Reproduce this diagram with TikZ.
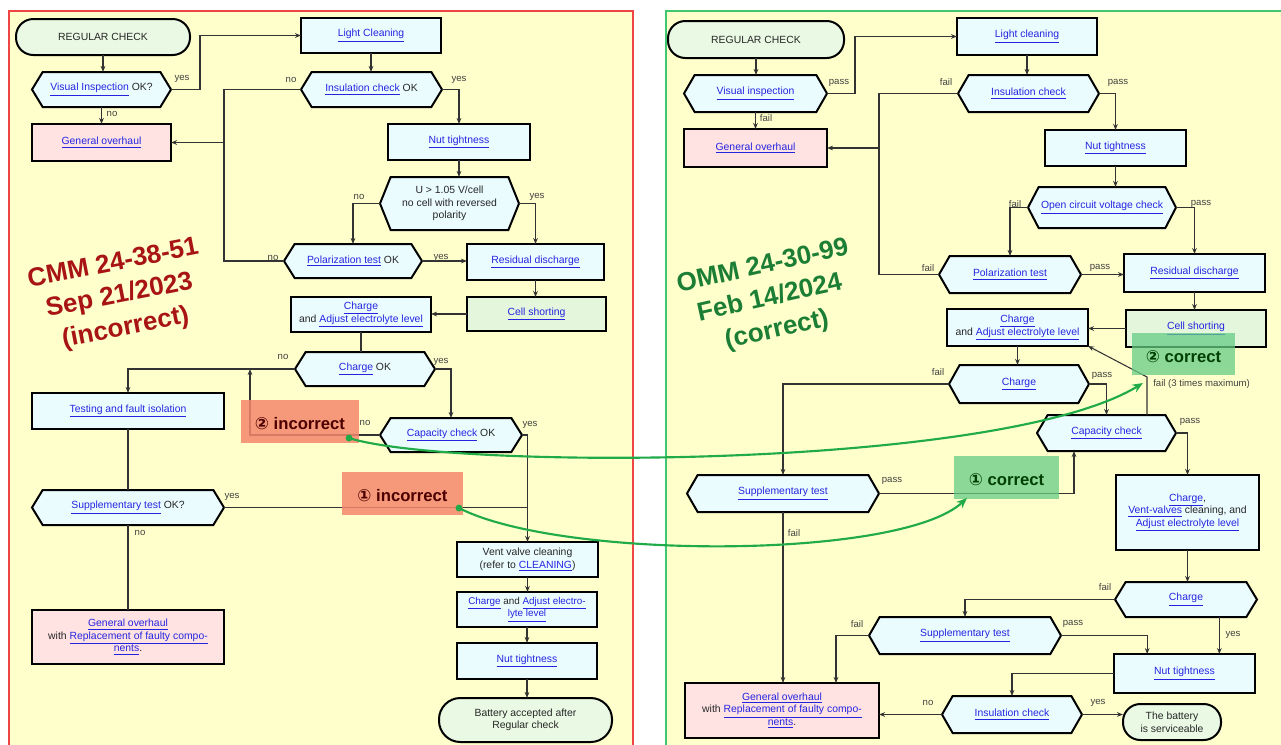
\documentclass[tikz,border=0pt]{standalone}
\usepackage{fontspec}
\setmainfont{Liberation Sans}
\newfontfamily\symfont{DejaVu Sans}
\usetikzlibrary{arrows.meta}
\pgfdeclarelayer{back}
\pgfdeclarelayer{bg}
\pgfsetlayers{back,bg,main}
\definecolor{panel}{HTML}{FFFFCC}
\definecolor{redframe}{HTML}{EE4545}
\definecolor{greenframe}{HTML}{40C870}
\definecolor{boxfill}{HTML}{EBFCFF}
\definecolor{pinkfill}{HTML}{FFE3E3}
\definecolor{termfill}{HTML}{EAF9E4}
\definecolor{cellgreen}{HTML}{E4F7DC}
\definecolor{linkblue}{HTML}{2424E0}
\definecolor{wirecol}{HTML}{333333}
\definecolor{titlered}{HTML}{A81414}
\definecolor{titlegreen}{HTML}{1B7E34}
\definecolor{arrowgreen}{HTML}{20AA48}
\definecolor{badfill}{HTML}{F5876C}
\definecolor{goodfill}{HTML}{66CC84}
\newcommand\lk[1]{\textcolor{linkblue}{\underline{#1}}}
\newcommand\mkbox[7]{\node[#6, minimum width={(#4-#2)*0.75pt}, minimum height={(#5-#3)*0.75pt}] (#1) at ({(#2+#4)/2},{(#3+#5)/2}) {#7};}
\newcommand\mkhex[6]{%
  \mkbox{#1}{#2}{#3}{#4}{#5}{hexn}{#6}%
  \begin{pgfonlayer}{bg}
  \draw[boxline, fill=boxfill] (#1.west) -- ([xshift=8pt]#1.north west) -- ([xshift=-8pt]#1.north east) -- (#1.east) -- ([xshift=-8pt]#1.south east) -- ([xshift=8pt]#1.south west) -- cycle;
  \end{pgfonlayer}}
\begin{document}
\begin{tikzpicture}[x=0.75pt, y=-0.75pt,
  boxline/.style={draw=black, line width=1.5pt},
  txt/.style={inner sep=1pt, outer sep=0pt, align=center, font=\fontsize{7.8}{9.4}\selectfont, text=black!85},
  box/.style={txt, boxline, fill=boxfill},
  pbox/.style={box, fill=pinkfill},
  gbox/.style={box, fill=cellgreen},
  term/.style={box, fill=termfill, rounded corners=13pt},
  hexn/.style={txt},
  wire/.style={draw=wirecol, line width=0.8pt},
  arr/.style={wire, -{Stealth[length=4.5pt,width=3.5pt]}},
  lab/.style={font=\fontsize{7.2}{8}\selectfont, text=black!75, inner sep=0pt},
  badbox/.style={fill=badfill, fill opacity=0.85, text opacity=1, inner sep=0pt, outer sep=0pt, text height=14.5pt, text depth=2.5pt, font=\fontsize{12.5}{14}\selectfont\bfseries, text=black!70!red},
  goodbox/.style={fill=goodfill, fill opacity=0.75, text opacity=1, inner sep=0pt, outer sep=0pt, text height=14.5pt, text depth=2.5pt, font=\fontsize{12.5}{14}\selectfont\bfseries, text=black!75!green},
  garrow/.style={draw=arrowgreen, line width=1.6pt, -{Stealth[length=8pt,width=6.5pt]}},
  title/.style={align=center, font=\fontsize{19.5}{24.5}\selectfont\bfseries}
]
\useasboundingbox (0,0) rectangle (1281,744);
\begin{pgfonlayer}{back}
\fill[white] (0,0) rectangle (1281,744);
\draw[redframe, line width=1.6pt, fill=panel] (9,11) rectangle (633,760);
\draw[greenframe, line width=1.6pt, fill=panel] (666,11) rectangle (1295,760);
\end{pgfonlayer}

% ---------- titles ----------
\node[title, rotate=11, text=titlered] (tL) at (119.5,296.5) {CMM 24-38-51\\Sep 21/2023\\(incorrect)};
\node[title, rotate=12.5, text=titlegreen] (tR) at (770,299) {OMM 24-30-99\\Feb 14/2024\\(correct)};

% ---------- left nodes ----------
\mkbox{Lrc}{16}{19}{190}{55}{term}{REGULAR CHECK}
\mkbox{Llc}{301}{18}{441}{53}{box}{\lk{Light Cleaning}}
\mkhex{Lvi}{32}{72}{171}{107}{\lk{Visual Inspection} OK?}
\mkbox{Lgo}{32}{124}{171}{161}{pbox}{\lk{General overhaul}}
\mkhex{Lic}{301}{72}{442}{107}{\lk{Insulation check} OK}
\mkbox{Lnt}{388}{124}{530}{160}{box}{\lk{Nut tightness}}
\mkhex{Lu}{380}{177}{519}{230}{U > 1.05 V/cell\\no cell with reversed\\polarity}
\mkhex{Lpt}{284}{244}{422}{278}{\lk{Polarization test} OK}
\mkbox{Lrd}{467}{244}{604}{280}{box}{\lk{Residual discharge}}
\mkbox{Lcs}{467}{297}{606}{331}{gbox}{\lk{Cell shorting}}
\mkbox{Lch}{291}{297}{431}{332}{box}{\lk{Charge}\\and \lk{Adjust electrolyte level}}
\mkhex{Lco}{295}{352}{435}{386}{\lk{Charge} OK}
\mkbox{Ltf}{32}{393}{224}{429}{box}{\lk{Testing and fault isolation}}
\mkhex{Lcc}{380}{418}{522}{452}{\lk{Capacity check} OK}
\mkhex{Lst}{32}{490}{224}{525}{\lk{Supplementary test} OK?}
\mkbox{Lgo2}{32}{610}{224}{664}{pbox}{\lk{General overhaul}\\with \lk{Replacement of faulty compo-}\\\lk{nents}.}
\mkbox{Lvv}{457}{542}{598}{577}{box}{Vent valve cleaning\\(refer to \lk{CLEANING})}
\mkbox{Lca}{457}{592}{597}{627}{box, font=\fontsize{7.4}{9.4}\selectfont}{\lk{Charge} and \lk{Adjust electro-}\\\lk{lyte level}}
\mkbox{Lnt2}{457}{643}{597}{679}{box}{\lk{Nut tightness}}
\mkbox{Lba}{439}{698}{612}{742}{term, rounded corners=16pt}{Battery accepted after\\Regular check}

% ---------- left connectors ----------
\draw[arr] (Lrc.south) -- (Lrc.south |- Lvi.north);
\draw[arr] (Lvi.east) -- ++(29,0) |- (Llc.west);
\draw[arr] (Lvi.south) -- (Lvi.south |- Lgo.north);
\draw[arr] (Llc.south) -- (Llc.south |- Lic.north);
\coordinate (Lbus) at (224,142.5);
\draw[wire] (Lic.west) -| (Lbus) |- (Lpt.west);
\draw[arr] (Lbus) -- (Lgo.east);
\draw[arr] (Lic.east) -| (Lnt.north);
\draw[arr] (Lnt.south) -- (Lnt.south |- Lu.north);
\draw[arr] (Lu.west) -| (Lpt.north);
\draw[arr] (Lu.east) -| (Lrd.north);
\draw[arr] (Lpt.east) -- (Lpt.east -| Lrd.west);
\draw[arr] (Lrd.south) -- (Lrd.south |- Lcs.north);
\draw[arr] (Lcs.west) -- (Lcs.west -| Lch.east);
\draw[wire] (Lch.south) -- (Lch.south |- Lco.north);
\draw[arr] (Lco.west) -| (Ltf.north);
\draw[arr] (Lco.east) -| (Lcc.north);
\coordinate (Lret) at (250,369);
\draw[arr] (Lcc.west) -| (Lret);
\draw[arr] (Lcc.east) -| (Lvv.north);
\draw[wire] (Ltf.south) -- (Ltf.south |- Lst.north);
\draw[wire] (Lst.east) -- (Lst.east -| Lvv.north);
\draw[wire] (Lst.south) -- (Lst.south |- Lgo2.north);
\draw[arr] (Lvv.south) -- (Lvv.south |- Lca.north);
\draw[arr] (Lca.south) -- (Lca.south |- Lnt2.north);
\draw[arr] (Lnt2.south) -- (Lnt2.south |- Lba.north);

\node[lab] at (182,79) {yes};
\node[lab] at (112,114) {no};
\node[lab] at (291,80) {no};
\node[lab] at (459,80) {yes};
\node[lab] at (359,197) {no};
\node[lab] at (537,197) {yes};
\node[lab] at (273,258) {no};
\node[lab] at (441,258) {yes};
\node[lab] at (283,357) {no};
\node[lab] at (441,362) {yes};
\node[lab] at (365,423) {no};
\node[lab] at (530,425) {yes};
\node[lab] at (232,497) {yes};
\node[lab] at (140,533) {no};

% ---------- right nodes ----------
\mkbox{Rrc}{668}{21}{844}{58}{term}{REGULAR CHECK}
\mkbox{Rlc}{957}{18}{1097}{55}{box}{\lk{Light cleaning}}
\mkhex{Rvi}{684}{75}{827}{112}{\lk{Visual inspection}}
\mkbox{Rgo}{684}{129}{827}{167}{pbox}{\lk{General overhaul}}
\mkhex{Ric}{958}{75}{1099}{112}{\lk{Insulation check}}
\mkbox{Rnt}{1045}{130}{1186}{166}{box}{\lk{Nut tightness}}
\mkhex{Roc}{1028}{187}{1176}{228}{\lk{Open circuit voltage check}}
\mkhex{Rpt}{939}{256}{1081}{293}{\lk{Polarization test}}
\mkbox{Rrd}{1124}{254}{1265}{292}{box}{\lk{Residual discharge}}
\mkbox{Rcs}{1126}{310}{1266}{347}{gbox}{\lk{Cell shorting}}
\mkbox{Rch}{947}{309}{1088}{346}{box}{\lk{Charge}\\and \lk{Adjust electrolyte level}}
\mkhex{Rc1}{949}{365}{1089}{403}{\lk{Charge}}
\mkhex{Rcc}{1037}{415}{1176}{451}{\lk{Capacity check}}
\mkhex{Rst}{687}{475}{879}{512}{\lk{Supplementary test}}
\mkbox{Rcv}{1116}{475}{1259}{550}{box}{\lk{Charge},\\\lk{Vent-valves} cleaning, and\\\lk{Adjust electrolyte level}}
\mkhex{Rc2}{1115}{582}{1257}{617}{\lk{Charge}}
\mkhex{Rs2}{869}{617}{1061}{654}{\lk{Supplementary test}}
\mkbox{Rnt2}{1114}{654}{1255}{693}{box}{\lk{Nut tightness}}
\mkhex{Ric2}{942}{696}{1082}{733}{\lk{Insulation check}}
\mkbox{Rbs}{1123}{704}{1221}{740}{term}{The battery\\is serviceable}
\mkbox{Rgo2}{685}{683}{879}{738}{pbox}{\lk{General overhaul}\\with \lk{Replacement of faulty compo-}\\\lk{nents}.}

% ---------- right connectors ----------
\draw[arr] (Rrc.south) -- (Rrc.south |- Rvi.north);
\draw[arr] (Rvi.east) -- ++(28,0) |- (Rlc.west);
\draw[arr] (Rvi.south) -- (Rvi.south |- Rgo.north);
\draw[arr] (Rlc.south) -- (Rlc.south |- Ric.north);
\coordinate (Rbus) at (879,148);
\draw[wire] (Ric.west) -| (Rbus) |- (Rpt.west);
\draw[arr] (Rbus) -- (Rgo.east);
\draw[arr] (Ric.east) -| (Rnt.north);
\draw[arr] (Rnt.south) -- (Rnt.south |- Roc.north);
\draw[arr] (Roc.west) -| (Rpt.north);
\draw[arr] (Roc.east) -| (Rrd.north);
\draw[arr] (Rpt.east) -- (Rpt.east -| Rrd.west);
\draw[arr] (Rrd.south) -- (Rrd.south |- Rcs.north);
\draw[arr] (Rcs.west) -- (Rcs.west -| Rch.east);
\draw[arr] (Rch.south) -- (Rch.south |- Rc1.north);
\draw[arr] (Rc1.west) -| (Rst.north);
\draw[arr] (Rc1.east) -| (Rcc.north);
\coordinate (Rfb) at (1147,377);
\draw[arr] (Rcc.north -| Rfb) -- (Rfb) -- (Rch.south east);
\draw[arr] (Rcc.east) -| (Rcv.north);
\coordinate (Rup) at (1074,493.5);
\draw[arr] (Rst.east) -- (Rup) -- (Rup |- Rcc.south);
\draw[arr] (Rst.south) -- (Rst.south |- Rgo2.north);
\draw[arr] (Rcv.south) -- (Rcv.south |- Rc2.north);
\draw[arr] (Rc2.west) -| (Rs2.north);
\draw[arr] ([xshift=25pt]Rc2.south) -- ([xshift=25pt]Rc2.south |- Rnt2.north);
\draw[arr] (Rs2.west) -| ([xshift=40.5pt]Rgo2.north);
\draw[arr] (Rs2.east) -| ([xshift=-28pt]Rnt2.north);
\draw[arr] (Rnt2.west) -| (Ric2.north);
\draw[arr] (Ric2.west) -- (Ric2.west -| Rgo2.east);
\draw[arr] (Ric2.east) -- (Ric2.east -| Rbs.west);

\node[lab] at (839,83) {pass};
\node[lab] at (766,118) {fail};
\node[lab] at (946,82) {fail};
\node[lab] at (1118,83) {pass};
\node[lab] at (1015,204) {fail};
\node[lab] at (1201,204) {pass};
\node[lab] at (928,268) {fail};
\node[lab] at (1100,268) {pass};
\node[lab] at (938,372) {fail};
\node[lab] at (1102,376) {pass};
\node[lab] at (1190,422) {pass};
\node[lab] at (892,481) {pass};
\node[lab] at (794,533) {fail};
\node[lab] at (1105,587) {fail};
\node[lab] at (1233,635) {yes};
\node[lab] at (857,624) {fail};
\node[lab] at (1073,624) {pass};
\node[lab] at (928,703) {no};
\node[lab] at (1098,703) {yes};
\node[lab, anchor=west] at (1153,384) {fail (3 times maximum)};

% ---------- annotation boxes ----------
\mkbox{bad2}{241}{400}{359}{443}{badbox}{{\symfont ②} incorrect}
\mkbox{bad1}{342}{472}{463}{515}{badbox}{{\symfont ①} incorrect}
\mkbox{good1}{954}{456}{1059}{499}{goodbox}{{\symfont ①} correct}
\mkbox{good2}{1132}{333}{1235}{375}{goodbox}{{\symfont ②} correct}

% ---------- green arrows ----------
\coordinate (g2s) at (349,438);
\coordinate (g2e) at (1143,383);
\coordinate (g1s) at (459,508);
\coordinate (g1e) at (967,498);
\fill[arrowgreen] (g2s) circle (2.6pt);
\fill[arrowgreen] (g1s) circle (2.6pt);
\draw[garrow] (g2s) .. controls (450,470) and (1000,470) .. (g2e);
\draw[garrow] (g1s) .. controls (560,560) and (900,560) .. (g1e);
\end{tikzpicture}
\end{document}
